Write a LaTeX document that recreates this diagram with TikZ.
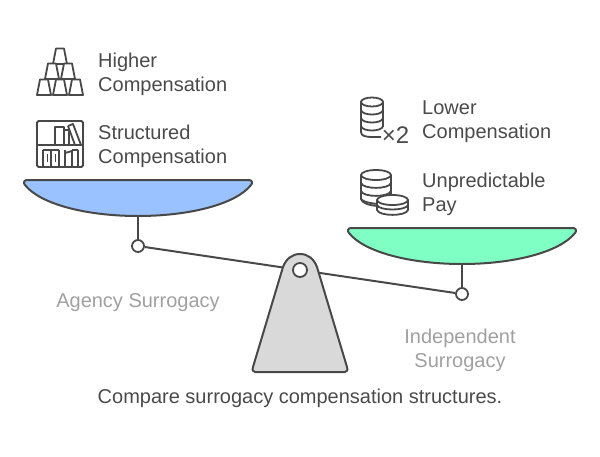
\documentclass[tikz,border=0pt]{standalone}
\usepackage{fontspec}
\setmainfont{Liberation Sans}
\definecolor{inkgrey}{HTML}{484848}
\definecolor{textgrey}{HTML}{4A4A4A}
\definecolor{labelgrey}{HTML}{A0A0A0}
\definecolor{panblue}{HTML}{99C2FF}
\definecolor{pangreen}{HTML}{80FFC4}
\definecolor{basegrey}{HTML}{D9D9D9}
\tikzstyle{itemtext} = [anchor=west,align=left,inner sep=0pt,text=textgrey,font=\fontsize{20}{24}\selectfont]
\tikzstyle{sidetext} = [align=center,inner sep=0pt,text=labelgrey,font=\fontsize{20}{24}\selectfont]
\tikzstyle{captext} = [inner sep=0pt,text=textgrey,font=\fontsize{20}{24}\selectfont]
\tikzstyle{hinge} = [circle,draw=inkgrey,fill=white,line width=1.8pt,minimum size=12pt,inner sep=0pt]
\tikzstyle{pan} = [draw=inkgrey,line width=2pt,line join=round]
\tikzstyle{icon} = [draw=inkgrey,line width=1.8pt,line join=round]
\tikzstyle{arm} = [draw=inkgrey,line width=2pt]

\begin{document}
\begin{tikzpicture}[x=1pt,y=-1pt]
\useasboundingbox (0,0) rectangle (600,456);

% cups
\foreach \x/\y in {60/64, 52/79, 68/79, 44/95, 60/95, 76/95} {
    \draw[icon,fill=white] (\x-7,\y) -- (\x-4,\y-15.5) -- (\x+4,\y-15.5) -- (\x+7,\y) -- cycle;
}
\node[itemtext] (higher) at (98,74) {Higher\\Compensation};

% shelf
\draw[icon,rounded corners=1.5pt] (37,121) rectangle (83,167);
\draw[icon] (37,145) -- (83,145);
\draw[icon] (55,145) -- (55,127) -- (64,127) -- (64,145);
\draw[icon] (64,130) -- (69,130) -- (69,145);
\draw[icon] (68,126) -- (73,124) -- (81,145) (75,145) -- (68,126);
\foreach \x in {43,51,59,65,72,78} {
    \draw[icon] (\x,167) -- (\x,150);
}
\draw[icon] (43,150) -- (59,150) (65,153) -- (72,151) (72,150) -- (78,150);
\foreach \x in {47,55} {
    \draw[icon,line width=1pt] (\x,154) -- (\x,162);
}
\node[itemtext] (structured) at (98,146) {Structured\\Compensation};

% coins
\draw[icon] (361,102) -- (361,132) .. controls (361,136) and (366,137) .. (372,137) -- (381,137);
\draw[icon] (383,102) -- (383,127);
\draw[icon] (372,102) ellipse (11 and 4.5);
\foreach \y in {110,118,126} {
    \draw[icon] (361,\y) .. controls (362,\y+6) and (382,\y+6) .. (383,\y);
}
\node[inner sep=0pt,text=textgrey,font=\fontsize{24}{24}\selectfont] (times) at (395.5,135) {×2};
\node[itemtext] (lower) at (422,122) {Lower\\Compensation};

\draw[icon] (361,175) -- (361,199) .. controls (362,203) and (368,205) .. (377,206);
\draw[icon] (391,175) -- (391,195);
\draw[icon] (376,175) ellipse (15 and 5);
\foreach \y in {183,191} {
    \draw[icon] (361,\y) .. controls (363,\y+6.5) and (389,\y+6.5) .. (391,\y);
}
\draw[icon] (361,199) .. controls (363,202) and (370,203) .. (377,204);
\draw[icon,fill=white] (377,200) -- (377,210) .. controls (379,216.5) and (406,216.5) .. (408,210) -- (408,200) -- cycle;
\draw[icon,fill=white] (392.5,200) ellipse (15.5 and 5);
\draw[icon] (377,205) .. controls (379,211) and (406,211) .. (408,205);
\node[itemtext] (unpredictable) at (422,194) {Unpredictable\\Pay};

% scale
\coordinate (pivotc) at (300,270);
\node[hinge] (hingeleft) at (138,246) {};
\node[hinge] (hingeright) at (462,294) {};
\coordinate (panleft) at (138,216);
\coordinate (panright) at (462,264);
\draw[arm] (panleft) -- (hingeleft);
\draw[arm] (panright) -- (hingeright);
\draw[arm] (hingeleft) -- (pivotc) -- (hingeright);

\draw[pan,fill=panblue] (27,180) -- (249,180) .. controls (252,180) and (253,183) .. (251,185) .. controls (236,204) and (190,216) .. (138,216) .. controls (86,216) and (40,204) .. (25,185) .. controls (23,183) and (24,180) .. (27,180) -- cycle;
\draw[pan,fill=pangreen] (351,228) -- (573,228) .. controls (576,228) and (577,231) .. (575,233) .. controls (560,252) and (514,264) .. (462,264) .. controls (410,264) and (364,252) .. (349,233) .. controls (347,231) and (348,228) .. (351,228) -- cycle;

\draw[pan,fill=basegrey] (283,267) .. controls (286,259) and (292,254) .. (300,254) .. controls (308,254) and (314,259) .. (317,267) -- (347,367) .. controls (348,370) and (347,372) .. (345,372) -- (255,372) .. controls (253,372) and (252,370) .. (253,367) -- cycle;
\node[hinge,minimum size=14pt] (pivot) at (pivotc) {};

\node[sidetext] (agency) at (138,303) {Agency Surrogacy};
\node[sidetext] (independent) at (460,350) {Independent\\Surrogacy};
\node[captext] (caption) at (300,398) {Compare surrogacy compensation structures.};
\end{tikzpicture}
\end{document}
